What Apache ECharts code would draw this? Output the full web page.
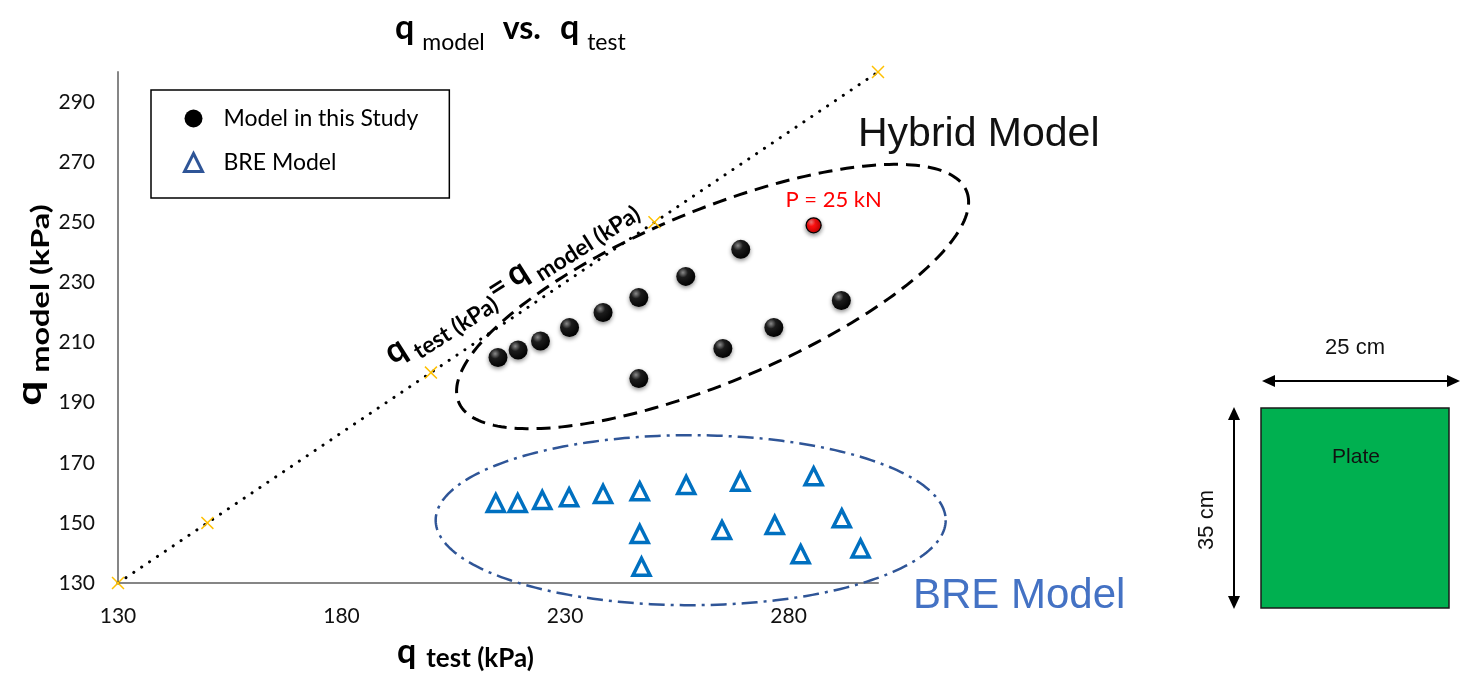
<!DOCTYPE html>
<html><head><meta charset="utf-8">
<script src="https://cdn.jsdelivr.net/npm/echarts@6/dist/echarts.min.js"></script>
<style>html,body{margin:0;padding:0;background:#fff}#c{width:1460px;height:674px}</style>
</head><body><div id="c"></div>
<script>
// ---------- DATA ----------
const xTicks = [130, 180, 230, 280];
const yTicks = [130, 150, 170, 190, 210, 230, 250, 270, 290];
const axisMax = 300;

const modelName = 'Model in this Study';
const modelX = [215, 219.5, 224.5, 231, 238.5, 246.5, 257, 269.3, 285.6, 291.8, 276.7, 265.3, 246.5];
const modelY = [205, 207.5, 210.5, 215, 220, 225, 232, 241, 249, 224, 215, 208, 198];
const highlightIndex = 8;
const highlightLabel = 'P = 25 kN';

const breName = 'BRE Model';
const breX = [214.5, 219.4, 224.9, 230.9, 238.5, 246.7, 257.1, 269.2, 285.6, 246.7, 247.1, 265.1, 276.9, 291.9, 282.7, 296.1];
const breY = [156.6, 156.6, 157.6, 158.5, 159.6, 160.5, 162.6, 163.7, 165.5, 146.3, 135.4, 147.6, 149.3, 151.5, 139.6, 141.5];

const refLine = [130, 150, 200, 250, 300]; // q_test = q_model

// ellipse annotations (centre in data units)
const ellipseCentreX = [263, 258.1];
const ellipseCentreY = [225.3, 150.9];

// ---------- STYLE / LAYOUT ----------
const ellipseStyle = [
  {rx: 275, ry: 86, angle: 22.6, stroke: '#000', width: 3, dash: [14, 8]},
  {rx: 255, ry: 85, angle: 0, stroke: '#2F5597', width: 2.5, dash: [16, 6, 3, 6]}
];
const CAL = 'Lato, "Open Sans", sans-serif';
const ARI = '"Liberation Sans", Arial, sans-serif';

const chart = echarts.init(document.getElementById('c'));

const blackBall = new echarts.graphic.RadialGradient(0.35, 0.3, 0.75, [
  {offset: 0, color: '#8a8a8a'}, {offset: 0.35, color: '#1c1c1c'}, {offset: 1, color: '#000'}]);
const redBall = new echarts.graphic.RadialGradient(0.35, 0.3, 0.75, [
  {offset: 0, color: '#ff8080'}, {offset: 0.35, color: '#ff1010'}, {offset: 1, color: '#c00000'}]);
const xMark = 'path://M0,0.8 L0.8,0 L5,4.2 L9.2,0 L10,0.8 L5.8,5 L10,9.2 L9.2,10 L5,5.8 L0.8,10 L0,9.2 L4.2,5 Z';

function big(size, padLeft) {
  return {fontFamily: CAL, fontSize: size, fontWeight: 'bold', fill: '#000', lineHeight: size,
    verticalAlign: 'bottom', padding: [0, 0, 0, padLeft || 0]};
}
function sub(size, drop, padLeft, weight) {
  return {fontFamily: CAL, fontSize: size, fontWeight: weight || 'normal', fill: '#000', lineHeight: 4,
    verticalAlign: 'bottom', padding: [0, 0, -drop, padLeft || 0]};
}

const option = {
  backgroundColor: '#fff',
  animation: false,
  grid: {left: 118, right: 1460 - 878, top: 72, bottom: 674 - 583, containLabel: false},
  xAxis: {
    type: 'value', min: xTicks[0], max: axisMax, interval: xTicks[1] - xTicks[0],
    splitLine: {show: false}, axisTick: {show: false},
    axisLine: {show: true, lineStyle: {color: '#868686', width: 2}},
    axisLabel: {showMaxLabel: false, fontFamily: CAL, fontSize: 21, color: '#111', margin: 23}
  },
  yAxis: {
    type: 'value', min: yTicks[0], max: axisMax, interval: yTicks[1] - yTicks[0],
    splitLine: {show: false}, axisTick: {show: false},
    axisLine: {show: true, lineStyle: {color: '#868686', width: 2}},
    axisLabel: {showMaxLabel: false, fontFamily: CAL, fontSize: 21, color: '#111', margin: 23}
  },
  legend: {
    data: [
      {name: modelName, icon: 'circle', itemStyle: {color: '#000', shadowBlur: 0, borderWidth: 0}},
      {name: breName, icon: 'triangle', itemStyle: {color: '#fff', borderColor: '#2F5597', borderWidth: 3}}
    ],
    orient: 'vertical', left: 151, top: 90, itemWidth: 18, itemHeight: 18, itemGap: 21,
    padding: [17, 31, 24, 32], borderColor: '#000', borderWidth: 1.5, borderRadius: 0,
    selectedMode: false,
    textStyle: {fontFamily: CAL, fontSize: 23, color: '#000', padding: [0, 0, 0, 16]}
  },
  series: [
    {
      type: 'custom', name: 'ellipses', silent: true, z: 1, clip: false,
      data: ellipseCentreX.map((x, i) => [x, ellipseCentreY[i]]),
      encode: {x: 0, y: 1},
      renderItem: function (params, api) {
        const e = ellipseStyle[params.dataIndex];
        const c = api.coord([api.value(0), api.value(1)]);
        const t = -e.angle * Math.PI / 180;
        const pts = [];
        for (let k = 0; k <= 240; k++) {
          const a = k / 240 * 2 * Math.PI;
          const ex = e.rx * Math.cos(a), ey = e.ry * Math.sin(a);
          pts.push([c[0] + ex * Math.cos(t) - ey * Math.sin(t), c[1] + ex * Math.sin(t) + ey * Math.cos(t)]);
        }
        return {type: 'polyline', shape: {points: pts},
          style: {fill: 'none', stroke: e.stroke, lineWidth: e.width, lineDash: e.dash}};
      }
    },
    {
      type: 'line', name: 'ref', silent: true, z: 2, clip: false,
      data: refLine.map(v => [v, v]),
      symbol: xMark, symbolSize: 13, showSymbol: true,
      itemStyle: {color: '#FFC000'},
      lineStyle: {color: '#000', width: 3, type: [0.1, 9.4], cap: 'round'}
    },
    {
      type: 'scatter', name: breName, z: 4,
      data: breX.map((x, i) => [x, breY[i]]),
      symbol: 'triangle', symbolSize: 17,
      itemStyle: {color: '#fff', borderColor: '#0070C0', borderWidth: 3.5, opacity: 1}
    },
    {
      type: 'scatter', name: modelName, z: 5,
      data: modelX.map((x, i) => i === highlightIndex ? {
        value: [x, modelY[i]], symbolSize: 15,
        itemStyle: {color: redBall, borderColor: '#000', borderWidth: 1.3},
        label: {show: true, formatter: highlightLabel, position: 'top', distance: 6, offset: [20, 0],
          color: '#FF0000', fontFamily: CAL, fontSize: 22}
      } : [x, modelY[i]]),
      symbol: 'circle', symbolSize: 19,
      itemStyle: {color: blackBall, shadowBlur: 4, shadowColor: 'rgba(0,0,0,0.45)', shadowOffsetY: 2, opacity: 1}
    }
  ],
  graphic: [
    // title
    {type: 'text', x: 395, y: 28, style: {
      text: '{q|q}{s1|model}{v|vs.}{q2|q}{s2|test}',
      verticalAlign: 'middle', textVerticalAlign: 'middle',
      rich: {q: big(34), q2: big(34, 19), v: big(32, 18), s1: sub(23, 9, 8), s2: sub(23, 9, 8)}}},
    // y axis title
    {type: 'text', x: 30, y: 305, rotation: Math.PI / 2, scaleX: 1.3, style: {
      text: '{q|q}{s|model (kPa)}',
      align: 'center', textAlign: 'center', verticalAlign: 'middle', textVerticalAlign: 'middle',
      rich: {q: big(34), s: sub(25, 6, 6, 'bold')}}},
    // x axis title
    {type: 'text', x: 397, y: 652, style: {
      text: '{q|q}{s|test (kPa)}',
      verticalAlign: 'middle', textVerticalAlign: 'middle',
      rich: {q: big(34), s: sub(26, 3, 10, 'bold')}}},
    // diagonal label
    {type: 'text', x: 509, y: 278, rotation: 32.5 * Math.PI / 180, style: {
      text: '{q|q}{s|test (kPa)}{e|=}{q2|q}{s|model (kPa)}',
      align: 'center', textAlign: 'center', verticalAlign: 'middle', textVerticalAlign: 'middle',
      rich: {q: big(34), q2: big(34, 6), e: big(31), s: sub(23, 8, 6, 'bold')}}},
    // annotations
    {type: 'text', x: 858, y: 135, style: {text: 'Hybrid Model', font: '41px ' + ARI, fill: '#111',
      verticalAlign: 'middle', textVerticalAlign: 'middle'}},
    {type: 'text', x: 913, y: 596, style: {text: 'BRE Model', font: '42px ' + ARI, fill: '#4472C4',
      verticalAlign: 'middle', textVerticalAlign: 'middle'}},
    // plate diagram
    {type: 'rect', shape: {x: 1261, y: 408, width: 188, height: 200},
      style: {fill: '#00B050', stroke: '#1a1a1a', lineWidth: 1.5}},
    {type: 'text', x: 1356, y: 457, style: {text: 'Plate', font: '21px ' + ARI, fill: '#111',
      align: 'center', textAlign: 'center', verticalAlign: 'middle', textVerticalAlign: 'middle'}},
    {type: 'text', x: 1355, y: 348, style: {text: '25 cm', font: '22px ' + ARI, fill: '#111',
      align: 'center', textAlign: 'center', verticalAlign: 'middle', textVerticalAlign: 'middle'}},
    {type: 'text', x: 1207, y: 520, rotation: Math.PI / 2, style: {text: '35 cm', font: '22px ' + ARI, fill: '#111',
      align: 'center', textAlign: 'center', verticalAlign: 'middle', textVerticalAlign: 'middle'}},
    {type: 'line', shape: {x1: 1270, y1: 381, x2: 1452, y2: 381}, style: {stroke: '#000', lineWidth: 2}},
    {type: 'polygon', shape: {points: [[1262, 381], [1275, 375], [1275, 387]]}, style: {fill: '#000'}},
    {type: 'polygon', shape: {points: [[1460, 381], [1447, 375], [1447, 387]]}, style: {fill: '#000'}},
    {type: 'line', shape: {x1: 1234, y1: 416, x2: 1234, y2: 600}, style: {stroke: '#000', lineWidth: 2}},
    {type: 'polygon', shape: {points: [[1234, 407], [1228, 420], [1240, 420]]}, style: {fill: '#000'}},
    {type: 'polygon', shape: {points: [[1234, 609], [1228, 596], [1240, 596]]}, style: {fill: '#000'}}
  ]
};
chart.setOption(option);
</script>
</body></html>
